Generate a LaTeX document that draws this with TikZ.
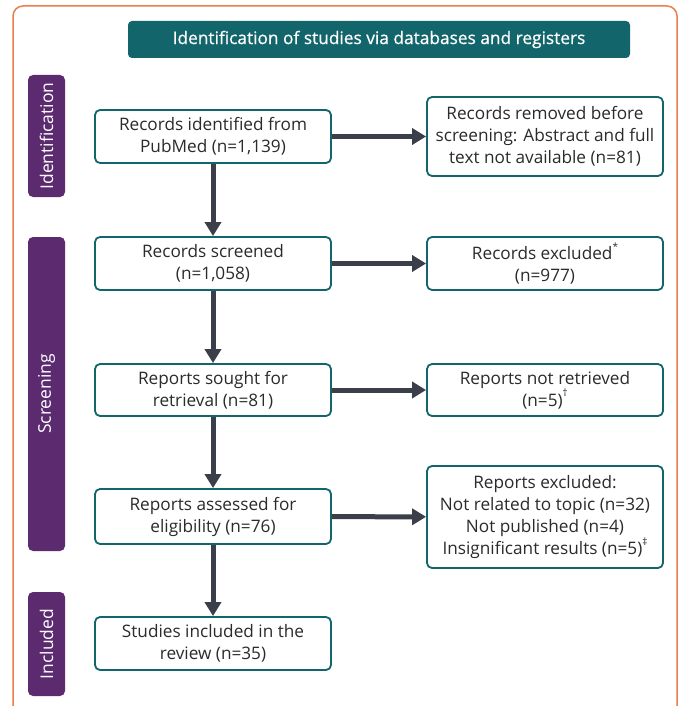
\documentclass[tikz,border=0pt]{standalone}
\usepackage{fontspec}
\setmainfont{Open Sans}
\newfontfamily\titlefont[FakeBold=0.6]{Open Sans}
\usetikzlibrary{arrows.meta}
\definecolor{teal}{HTML}{12666B}
\definecolor{purp}{HTML}{5C2A6F}
\definecolor{orng}{HTML}{E8804A}
\definecolor{arr}{HTML}{3B3F4A}
\definecolor{txt}{HTML}{2B2B2B}
\newcommand{\sups}[1]{\raisebox{0.55em}{\fontsize{10}{10}\selectfont #1}}
\tikzset{
  box/.style={draw=teal, line width=1.8pt, rounded corners=5pt, fill=white, text=txt, align=center, font=\fontsize{17.2}{22}\selectfont, inner sep=0pt},
  phase/.style={fill=purp, rounded corners=5pt, text=white},
  phasetext/.style={rotate=90, text=white, font=\fontsize{17.5}{18}\selectfont},
  flow/.style={draw=arr, line width=5pt, -{Triangle[length=14pt,width=16pt]}},
}
\begin{document}
\begin{tikzpicture}[x=1pt,y=-1pt]
\useasboundingbox (0,0) rectangle (681,706);
% outer frame
\draw[orng, line width=1.5pt, rounded corners=10pt] (13,720) -- (13,6) -- (677,6) -- (677,720);
% title
\node[fill=teal, rounded corners=4pt, text=white, font=\titlefont\fontsize{17.3}{18}\selectfont, minimum width=502pt, minimum height=37pt, inner sep=0pt] (title) at (379,39.5) {Identification of studies via databases and registers};
% phases
\node[phase, minimum width=37pt, minimum height=122pt, inner sep=0pt] (p1) at (46.5,136) {};
\node[phasetext] (p1t) at (p1.center) {Identification};
\node[phase, minimum width=37pt, minimum height=314pt, inner sep=0pt] (p2) at (46.5,394) {};
\node[phasetext] (p2t) at (p2.center) {Screening};
\node[phase, minimum width=37pt, minimum height=104pt, inner sep=0pt] (p3) at (46.5,644) {};
\node[phasetext] (p3t) at (p3.center) {Included};
% left boxes
\node[box, minimum width=236pt, minimum height=53pt] (b1) at (213,136.5) {Records identified from\\PubMed (n=1,139)};
\node[box, minimum width=236pt, minimum height=53pt] (b2) at (213,263.5) {Records screened\\(n=1,058)};
\node[box, minimum width=236pt, minimum height=52pt] (b3) at (213,390) {Reports sought for\\retrieval (n=81)};
\node[box, minimum width=236pt, minimum height=55pt] (b4) at (213,516.5) {Reports assessed for\\eligibility (n=76)};
\node[box, minimum width=236pt, minimum height=53pt] (b5) at (213,643.5) {Studies included in the\\review (n=35)};
% right boxes
\node[box, minimum width=236pt, minimum height=79pt] (r1) at (545,136.5) {Records removed before\\screening: Abstract and full\\text not available (n=81)};
\node[box, minimum width=236pt, minimum height=53pt] (r2) at (545,263.5) {Records excluded\sups{*}\\(n=977)};
\node[box, minimum width=236pt, minimum height=52pt] (r3) at (545,390) {Reports not retrieved\\(n=5)\sups{\textdagger}};
\node[box, minimum width=236pt, minimum height=102pt] (r4) at (545,517) {Reports excluded:\\Not related to topic (n=32)\\Not published (n=4)\\Insignificant results (n=5)\sups{\textdaggerdbl}};
% arrows
\draw[flow] (b1) -- (b2);
\draw[flow] (b2) -- (b3);
\draw[flow] (b3) -- (b4);
\draw[flow] (b4) -- (b5);
\draw[flow] (b1) -- (r1);
\draw[flow] (b2) -- (r2);
\draw[flow] (b3) -- (r3);
\draw[flow] (b4) -- (r4);
\end{tikzpicture}
\end{document}
